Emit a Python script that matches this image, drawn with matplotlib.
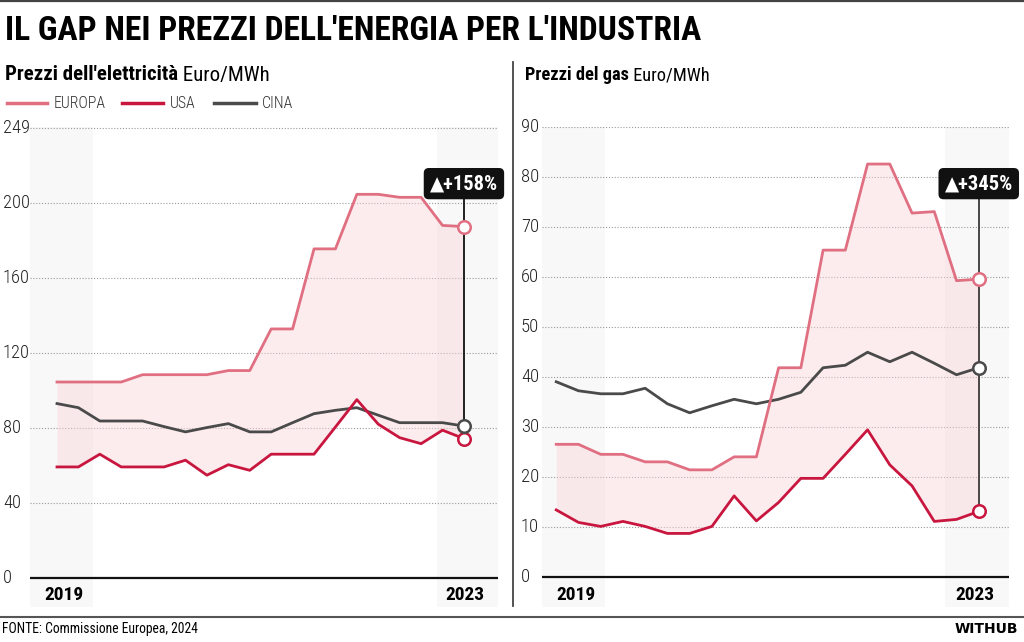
import numpy as np
import matplotlib.pyplot as plt
from matplotlib.lines import Line2D
from matplotlib.patches import Rectangle
from matplotlib.transforms import blended_transform_factory

# quarterly points, 2019 Q1 .. 2023 Q4
quarters = np.arange(20)
year_labels = ['2019', '2023']
series_names = ['EUROPA', 'USA', 'CINA']

# electricity prices, Euro/MWh
elec_europa = [104.5, 104.5, 104.5, 104.5, 108.4, 108.4, 108.4, 108.4, 110.6, 110.6,
               132.8, 132.8, 175.5, 175.5, 204.6, 204.6, 203.0, 203.0, 188.0, 187.4]
elec_usa = [59.2, 59.2, 66.0, 59.2, 59.2, 59.2, 62.8, 54.8, 60.4, 57.4,
            66.0, 66.0, 66.0, 80.5, 95.1, 82.0, 74.8, 71.6, 78.8, 74.3]
elec_cina = [93.0, 90.8, 83.7, 83.7, 83.7, 80.7, 77.9, 80.2, 82.3, 77.9,
             77.9, 82.8, 87.6, 89.4, 90.8, 86.8, 82.8, 82.8, 82.8, 81.0]
elec_ticks = [0, 40, 80, 120, 160, 200, 240]
elec_tick_labels = ['0', '40', '80', '120', '160', '200', '249']
elec_gap = '▲+158%'

# gas prices, Euro/MWh
gas_europa = [26.6, 26.6, 24.6, 24.6, 23.1, 23.1, 21.5, 21.5, 24.1, 24.1,
              41.9, 41.9, 65.4, 65.4, 82.6, 82.6, 72.8, 73.1, 59.3, 59.6]
gas_usa = [13.5, 11.0, 10.2, 11.2, 10.2, 8.8, 8.8, 10.2, 16.3, 11.3,
           15.0, 19.8, 19.8, 24.6, 29.5, 22.5, 18.3, 11.2, 11.6, 13.2]
gas_cina = [39.1, 37.3, 36.7, 36.7, 37.8, 34.7, 32.9, 34.3, 35.6, 34.7,
            35.6, 37.0, 41.9, 42.4, 45.0, 43.1, 45.0, 42.8, 40.5, 41.9]
gas_ticks = [0, 10, 20, 30, 40, 50, 60, 70, 80, 90]
gas_tick_labels = [str(t) for t in gas_ticks]
gas_gap = '▲+345%'

c_eu = '#e06f82'
c_us = '#c8163f'
c_cn = '#4a4a4a'
colors = [c_eu, c_us, c_cn]
NARROW = ['Roboto Condensed', 'Open Sans Condensed', 'Liberation Sans Narrow', 'DejaVu Sans']
plt.rcParams['font.stretch'] = 'condensed'

W, H = 1024, 642
fig = plt.figure(figsize=(W / 100, H / 100), dpi=100)
renderer = fig.canvas.get_renderer()


def fx(px):
    return px / W


def fy(py):
    return 1 - py / H


def fit(txt, width_px):
    # scale a text so that it spans the width it has in the reference
    w = txt.get_window_extent(renderer).width
    txt.set_fontsize(txt.get_fontsize() * width_px / w)


def panel(left, right, xlim, ylim, eu, us, cn, ticks, labels, gap, band_r, lab_x,
          line_end, line_col):
    wpx = right - left
    ax = fig.add_axes([fx(left), fy(607), wpx / W, 480 / H])
    ax.set_xlim(xlim)
    ax.set_ylim(ylim)
    ax.axis('off')

    # light grey bands behind first and last year
    ax.add_patch(Rectangle((0, 0), 63 / wpx, 1, transform=ax.transAxes,
                           color='#f8f8f8', lw=0, zorder=0))
    ax.add_patch(Rectangle((1 - band_r / wpx, 0), band_r / wpx, 1, transform=ax.transAxes,
                           color='#f8f8f8', lw=0, zorder=0))

    for t in ticks[1:]:
        ax.axhline(t, color='#9a9a9a', lw=0.8, ls=(0, (1, 1.6)), zorder=1)
    ax.axhline(0, color='#111111', lw=1.6, zorder=4)

    ax.fill_between(quarters, eu, us, color='#f9d5da', alpha=0.45, lw=0, zorder=2)
    ax.plot(quarters, cn, color=c_cn, lw=2, zorder=5)
    ax.plot(quarters, eu, color=c_eu, lw=2, zorder=6)
    ax.plot(quarters, us, color=c_us, lw=2, zorder=7)

    # gap marker
    frac = (line_end - ylim[0]) / (ylim[1] - ylim[0])
    ax.axvline(quarters[-1], ymin=frac, ymax=0.87, color=line_col, lw=1.3, zorder=8)
    for vals, col in zip([eu, us, cn], [c_eu, c_us, c_cn]):
        ax.plot(quarters[-1], vals[-1], 'o', ms=9, mfc='white', mec=col, mew=1.8,
                zorder=9, clip_on=False)
    bt = blended_transform_factory(ax.transData, ax.transAxes)
    g = ax.text(quarters[-1], 0.882, gap, transform=bt, ha='center', va='center',
                color='white', fontsize=13, fontweight='bold', family=NARROW, zorder=10,
                bbox=dict(boxstyle='round,pad=0.3,rounding_size=0.25', fc='#111111', ec='none'))
    fit(g, 68)

    # y tick labels
    yt = blended_transform_factory(ax.transAxes, ax.transData)
    for t, lab in zip(ticks, labels):
        tl = ax.text((lab_x - left) / wpx, t, lab, transform=yt, ha='left', va='center',
                     fontsize=12.5, color='#222222', family=NARROW, fontweight='light')
        if lab == labels[-1]:
            fit(tl, 9 * len(lab))
            size = tl.get_fontsize()
    for tl in ax.texts[-len(labels):]:
        tl.set_fontsize(size)

    y0 = ax.text(14 / wpx, 0.024, year_labels[0], transform=ax.transAxes, ha='left',
                 va='center', fontsize=14, fontweight='bold', family=NARROW)
    fit(y0, 39)
    ax.text(1 - 14 / wpx, 0.024, year_labels[1], transform=ax.transAxes, ha='right',
            va='center', fontsize=y0.get_fontsize(), fontweight='bold', family=NARROW)
    return ax


ax1 = panel(30, 498, (-1.26, 20.59), (-15.5, 240.5), elec_europa, elec_usa, elec_cina,
            elec_ticks, elec_tick_labels, elec_gap, 61, 3, elec_cina[-1], '#111111')
ax2 = panel(542, 1009, (-0.64, 20.36), (-5.9, 90.0), gas_europa, gas_usa, gas_cina,
            gas_ticks, gas_tick_labels, gas_gap, 64, 521, gas_usa[-1], '#3a3a3a')

# frame lines
fig.add_artist(Line2D([0, 1], [fy(0.8)] * 2, color='#444444', lw=1.6))
fig.add_artist(Line2D([fx(513)] * 2, [fy(62), fy(606)], color='#444444', lw=1.3))
fig.add_artist(Line2D([0, 1], [fy(617)] * 2, color='#555555', lw=1.5))

title = fig.text(fx(5), fy(31), "IL GAP NEI PREZZI DELL'ENERGIA PER L'INDUSTRIA",
                 fontsize=23.5, fontweight='bold', va='center', family=NARROW)
fit(title, 698)

for x0, bold, rest, wbold in [(5, "Prezzi dell'elettricità", ' Euro/MWh', 173),
                              (525, 'Prezzi del gas', ' Euro/MWh', 104)]:
    t = fig.text(fx(x0), fy(75), bold, fontsize=12.5, fontweight='bold',
                 va='center', family=NARROW)
    fit(t, wbold)
    ax1.annotate(rest, xy=(1, 0), xycoords=t, va='bottom', ha='left',
                 fontsize=t.get_fontsize(), family=NARROW)

# legend
leg_pos = [(7, 47, 54), (122, 163, 170), (214, 256, 262)]
for (a, b, tx), name, col in zip(leg_pos, series_names, colors):
    fig.add_artist(Line2D([fx(a), fx(b)], [fy(103)] * 2, color=col, lw=2.5))
    lt = fig.text(fx(tx), fy(103), name, va='center', fontsize=10.5, color='#333333',
                  family=NARROW, fontweight='light')
    if name == 'EUROPA':
        fit(lt, 52)
        lsize = lt.get_fontsize()
    lt.set_fontsize(lsize)

src = fig.text(fx(2), fy(629), 'FONTE: Commissione Europea, 2024', va='center',
               fontsize=11, family=NARROW)
fit(src, 196)
fig.text(fx(1018), fy(629), 'WITHUB', ha='right', va='center', fontsize=10,
         fontweight='heavy', family='DejaVu Sans', fontstretch='normal')

fig.savefig('out.png', dpi=100)
